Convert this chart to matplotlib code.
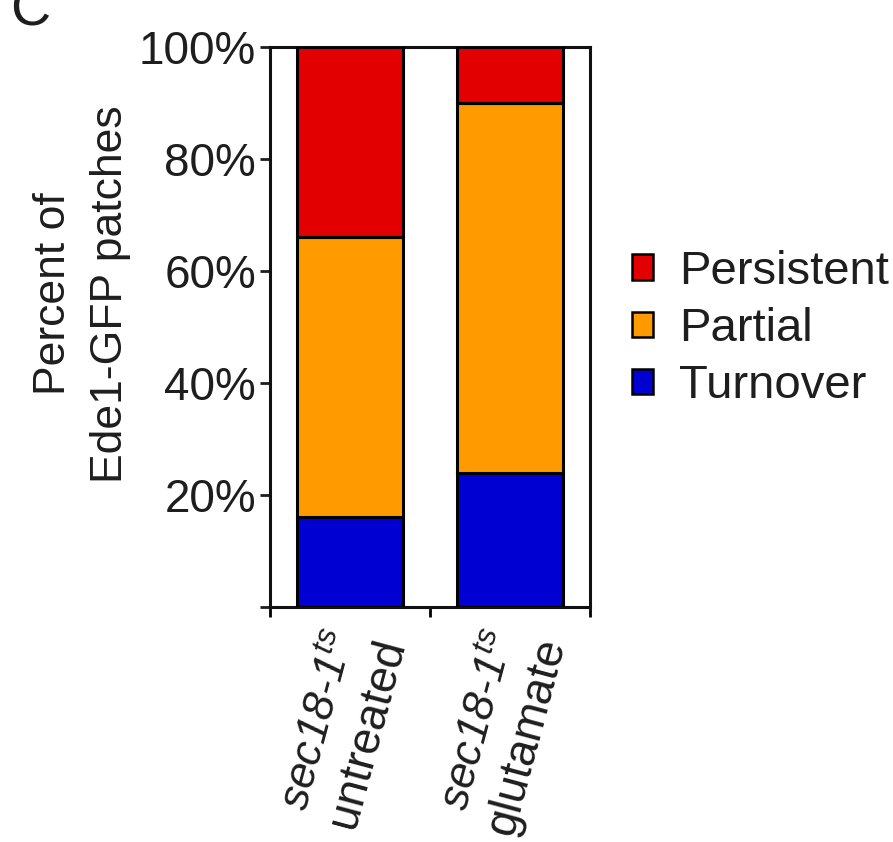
import matplotlib
matplotlib.use("Agg")
import matplotlib.pyplot as plt
import numpy as np

plt.rcParams['font.family'] = ['Liberation Sans', 'DejaVu Sans']
plt.rcParams['mathtext.fontset'] = 'custom'
plt.rcParams['mathtext.rm'] = 'Liberation Sans'
plt.rcParams['mathtext.it'] = 'Liberation Sans:italic'

# Data (percent of Ede1-GFP patches)
strains = ["sec18-1$^{ts}$", "sec18-1$^{ts}$"]
treatments = ["untreated", "glutamate"]
turnover = [16, 24]
partial = [50, 66]
persistent = [34, 10]

series = [("Turnover", turnover, "#0000D2"),
          ("Partial", partial, "#FF9B00"),
          ("Persistent", persistent, "#E20000")]

fig = plt.figure(figsize=(8.93, 8.42), dpi=100)
ax = fig.add_axes([0.3024, 0.2791, 0.3583, 0.6651])

x = np.arange(len(treatments))
bottom = np.zeros(len(treatments))
handles = {}
for name, vals, color in series:
    b = ax.bar(x, vals, bottom=bottom, width=0.66, color=color,
               edgecolor="black", linewidth=2.2, label=name, zorder=3)
    handles[name] = b
    bottom += np.array(vals)

ax.set_xlim(-0.5, 1.5)
ax.set_ylim(0, 100)
ax.set_yticks([0, 20, 40, 60, 80, 100])
ax.set_yticklabels(["", "20%", "40%", "60%", "80%", "100%"])
ax.set_xticks([-0.5, 0.5, 1.5])
ax.set_xticklabels([])
ax.tick_params(axis="y", length=7, width=2, labelsize=33, pad=3, colors="#1e1e1e")
ax.tick_params(axis="x", length=7, width=2)
for s in ax.spines.values():
    s.set_linewidth(2.2)
    s.set_color("#111111")

# Category labels: strain (italic) and treatment, rotated
for i in x:
    ax.annotate(strains[i], xy=(i, 0), xycoords="data",
                xytext=(-7, -24), textcoords="offset pixels",
                ha="right", va="center", rotation=75, rotation_mode="anchor",
                fontsize=32, fontstyle="italic", color="#1e1e1e",
                annotation_clip=False)
    ax.annotate(treatments[i], xy=(i, 0), xycoords="data",
                xytext=(43, -33), textcoords="offset pixels",
                ha="right", va="center", rotation=75, rotation_mode="anchor",
                fontsize=33, color="#1e1e1e", annotation_clip=False)

fig.text(0.092, 0.651, "Percent of\nEde1-GFP patches", rotation=90,
         ha="center", va="center", multialignment="center",
         fontsize=32, color="#1e1e1e", linespacing=1.5)

# Panel letter
fig.text(0.011, 0.970, "C", fontsize=40, ha="left", va="baseline",
         color="#1e1e1e")

leg = fig.legend([handles["Persistent"], handles["Partial"], handles["Turnover"]],
                 ["Persistent", "Partial", "Turnover"],
                 loc="center left", bbox_to_anchor=(0.708, 0.609),
                 frameon=False, fontsize=34, handlelength=0.45, handleheight=0.45,
                 handletextpad=0.55, labelspacing=0.28, borderpad=0,
                 borderaxespad=0)
for t in leg.get_texts():
    t.set_color("#1e1e1e")
for p in leg.legend_handles:
    p.set_linewidth(1.8)

fig.savefig("out.png", dpi=100)
